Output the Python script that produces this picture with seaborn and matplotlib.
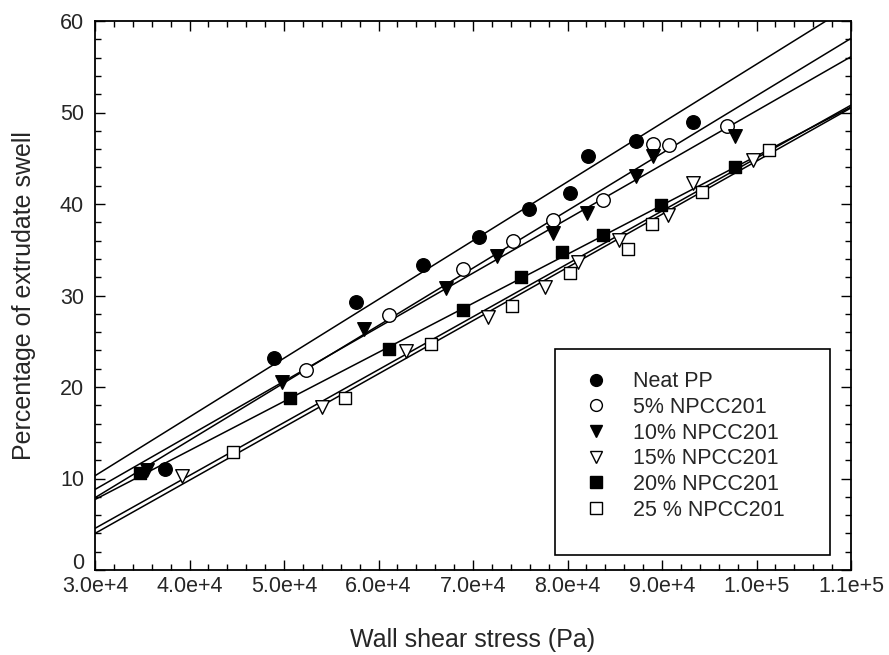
import matplotlib
matplotlib.use("Agg")
import matplotlib.pyplot as plt
import matplotlib.transforms as mtransforms
from matplotlib.lines import Line2D
from matplotlib.patches import Rectangle
from matplotlib.ticker import MultipleLocator, FixedLocator
import seaborn as sns
import pandas as pd

# ---- data ----
series_names = ["Neat PP", "5% NPCC201", "10% NPCC201", "15% NPCC201", "20% NPCC201", "25 % NPCC201"]

neat_x = [37407, 48942, 57619, 64677, 70667, 75958, 80265, 82201, 87249, 93316]
neat_y = [11.0, 23.2, 29.3, 33.3, 36.4, 39.4, 41.2, 45.2, 46.9, 49.0]

p5_x = [52328, 61143, 68910, 74201, 78497, 83714, 89011, 90772, 96843]
p5_y = [21.9, 27.9, 32.9, 36.0, 38.2, 40.4, 46.6, 46.4, 48.5]

p10_x = [35534, 49757, 58466, 67143, 72503, 78497, 82022, 87249, 89011, 97725]
p10_y = [10.9, 20.5, 26.3, 30.8, 34.3, 36.8, 39.0, 43.1, 45.2, 47.4]

p15_x = [39175, 53989, 62910, 71556, 77619, 81146, 85481, 90666, 93316, 99593]
p15_y = [10.3, 17.8, 23.9, 27.7, 30.9, 33.7, 36.1, 38.8, 42.3, 44.8]

p20_x = [34762, 50635, 61143, 68910, 75048, 79386, 83789, 89858, 97725]
p20_y = [10.6, 18.8, 24.2, 28.4, 32.0, 34.7, 36.6, 39.9, 44.0]

p25_x = [44571, 56455, 65556, 74159, 80265, 86360, 88900, 94201, 101357]
p25_y = [12.9, 18.8, 24.7, 28.85, 32.5, 35.05, 37.8, 41.3, 45.9]

# fitted lines: value at x = 3.0e4 and at x = 1.1e5
fit_x = [30000, 110000]
fit_left = [10.3, 7.9, 8.8, 4.55, 7.7, 4.0]
fit_right = [61.7, 58.1, 56.1, 50.8, 50.6, 50.5]

x_ticks = [30000, 40000, 50000, 60000, 70000, 80000, 90000, 100000, 110000]
x_tick_labels = ["3.0e+4", "4.0e+4", "5.0e+4", "6.0e+4", "7.0e+4", "8.0e+4", "9.0e+4", "1.0e+5", "1.1e+5"]
y_ticks = [0, 10, 20, 30, 40, 50, 60]

xs = [neat_x, p5_x, p10_x, p15_x, p20_x, p25_x]
ys = [neat_y, p5_y, p10_y, p15_y, p20_y, p25_y]
markers = ["o", "o", "v", "v", "s", "s"]
filled = [True, False, True, False, True, False]

# ---- style ----
sns.set_theme(style="white")
plt.rcParams["font.family"] = ["Liberation Sans", "DejaVu Sans"]
plt.rcParams["axes.edgecolor"] = "black"

fig = plt.figure(figsize=(8.89, 6.55), dpi=100)
ax = fig.add_axes([95 / 889, 1 - 570 / 655, (851 - 95) / 889, (570 - 21) / 655])

for i, name in enumerate(series_names):
    df_line = pd.DataFrame({"x": fit_x, "y": [fit_left[i], fit_right[i]]})
    sns.lineplot(data=df_line, x="x", y="y", color="black", linewidth=1.1, ax=ax, legend=False)

for i, name in enumerate(series_names):
    df = pd.DataFrame({"x": xs[i], "y": ys[i]})
    face = "black" if filled[i] else "white"
    sns.scatterplot(data=df, x="x", y="y", marker=markers[i], s=95 if markers[i] != "s" else 85,
                    color=face, edgecolor="black", linewidth=1.0, ax=ax, legend=False, zorder=3)

ax.set_xlim(30000, 110000)
ax.set_ylim(0, 60)
ax.xaxis.set_major_locator(FixedLocator(x_ticks))
ax.set_xticklabels(x_tick_labels)
ax.yaxis.set_major_locator(FixedLocator(y_ticks))
ax.xaxis.set_minor_locator(MultipleLocator(2000))
ax.yaxis.set_minor_locator(MultipleLocator(2))
ax.tick_params(which="both", direction="in", top=True, right=True, bottom=True, left=True,
               color="black", width=1.0)
ax.tick_params(which="major", length=7, labelsize=15.5)
ax.tick_params(axis="x", which="major", pad=4)
ax.tick_params(axis="y", which="major", pad=8)
ax.tick_params(which="minor", length=4)
for sp in ax.spines.values():
    sp.set_linewidth(1.3)
    sp.set_color("black")

ax.set_xlabel("Wall shear stress (Pa)", fontsize=18, labelpad=23)
ax.set_ylabel("Percentage of extrudate swell", fontsize=18, labelpad=17)

# nudge the "0" y label up a little so it clears the first x label
fig.canvas.draw()
ylabels = ax.get_yticklabels()
if ylabels:
    ylabels[0].set_transform(ylabels[0].get_transform() +
                             mtransforms.ScaledTranslation(0, 9 / 100, fig.dpi_scale_trans))

# legend
handles = []
for i, name in enumerate(series_names):
    face = "black" if filled[i] else "white"
    handles.append(Line2D([], [], linestyle="none", marker=markers[i], markersize=8.5,
                          markerfacecolor=face, markeredgecolor="black", markeredgewidth=1.0,
                          label=name))
rect = Rectangle(((555 - 95) / 756, (570 - 555) / 549), (830 - 555) / 756, (555 - 349) / 549,
                 transform=ax.transAxes, facecolor="white", edgecolor="black", linewidth=1.2, zorder=4)
ax.add_patch(rect)
leg = ax.legend(handles=handles, loc="upper left",
                bbox_to_anchor=((568 - 95) / 756, (570 - 356) / 549),
                frameon=False, fontsize=15.5, labelspacing=0.22, handletextpad=1.1,
                handlelength=1.2, borderpad=0.2)
leg.set_zorder(5)

fig.savefig("out.png", dpi=100)
